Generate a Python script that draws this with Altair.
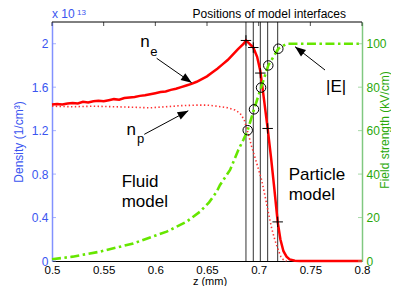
import altair as alt
import pandas as pd

# ---------------- data ----------------
z_ne = [0.500, 0.505, 0.510, 0.515, 0.520, 0.525, 0.530, 0.535, 0.540, 0.545,
        0.550, 0.555, 0.560, 0.565, 0.570, 0.575, 0.580, 0.585, 0.590, 0.595,
        0.600, 0.605, 0.610, 0.615, 0.620, 0.625, 0.630, 0.635, 0.640, 0.645,
        0.650, 0.655, 0.660, 0.665, 0.670, 0.675, 0.680, 0.6855, 0.6877, 0.6900,
        0.6948, 0.6985, 0.7016, 0.7050, 0.7087, 0.7120, 0.7150, 0.7184, 0.7210,
        0.7240, 0.7270, 0.7300, 0.7350, 0.7400, 0.8000]
ne = [1.440, 1.445, 1.440, 1.450, 1.455, 1.450, 1.465, 1.460, 1.470, 1.475,
      1.470, 1.480, 1.490, 1.485, 1.500, 1.505, 1.510, 1.520, 1.525, 1.535,
      1.545, 1.555, 1.560, 1.575, 1.585, 1.600, 1.615, 1.630, 1.650, 1.675,
      1.700, 1.735, 1.770, 1.810, 1.850, 1.900, 1.950, 2.000, 2.030, 2.010,
      1.965, 1.880, 1.750, 1.500, 1.220, 0.950, 0.680, 0.360, 0.200,
      0.090, 0.040, 0.015, 0.003, 0.000, 0.000]

z_np = [0.500, 0.520, 0.540, 0.560, 0.580, 0.595, 0.610, 0.625, 0.640, 0.650,
        0.660, 0.670, 0.677, 0.682, 0.686, 0.6885, 0.6933, 0.6981, 0.7029,
        0.7061, 0.7093, 0.7126, 0.7158, 0.7190, 0.7215, 0.7240, 0.7270]
np_ = [1.425, 1.420, 1.425, 1.420, 1.415, 1.410, 1.420, 1.430, 1.435, 1.435,
       1.425, 1.410, 1.390, 1.360, 1.300, 1.220, 1.050, 0.900, 0.745,
       0.600, 0.450, 0.300, 0.190, 0.100, 0.040, 0.010, 0.000]

z_E = [0.500, 0.520, 0.5465, 0.5787, 0.611, 0.630, 0.6432, 0.652, 0.6594,
       0.6626, 0.6723, 0.6803, 0.6851, 0.6894, 0.6955, 0.7023, 0.7093, 0.7190,
       0.7270, 0.8000]
E = [0.8, 2.0, 4.3, 8.1, 13.5, 18.0, 22.7, 27.0, 31.9,
     35.0, 41.9, 51.1, 55.7, 60.2, 69.8, 79.8, 90.0, 97.7,
     100.0, 100.0]

z_iface = [0.6877, 0.6948, 0.7016, 0.7087, 0.7184]
ne_iface = [2.03, 1.965, 1.73, 1.22, 0.36]
z_circ = [0.6894, 0.6955, 0.7023, 0.7093, 0.7190]
E_circ = [60.2, 69.8, 79.8, 90.0, 97.7]

z_ticks = [0.5, 0.55, 0.6, 0.65, 0.7, 0.75, 0.8]
dens_ticks = [0, 0.4, 0.8, 1.2, 1.6, 2.0]
field_ticks = [0, 20, 40, 60, 80, 100]

# annotations (in data coordinates: z, density/1e13)
lab_text = ["n", "e", "n", "p"]
lab_z = [0.5900, 0.5985, 0.5767, 0.5858]
lab_d = [1.973, 1.887, 1.160, 1.088]
lab_size = [17, 13, 17, 13]

txt_text = ["|E|", "Fluid", "model", "Particle", "model"]
txt_z = [0.7652, 0.5674, 0.5674, 0.7290, 0.7290]
txt_d = [1.558, 0.684, 0.500, 0.746, 0.561]

arr_z1 = [0.6013, 0.5893, 0.7642]
arr_d1 = [1.866, 1.166, 1.758]
arr_z2 = [0.6352, 0.6319, 0.7352]
arr_d2 = [1.641, 1.383, 1.973]
arr_angle = [125, 62, 308]

# ---------------- styling ----------------
FONT = "Liberation Sans"
W, H = 310, 239
BLUE_TXT = "#3a55f0"
BLUE_AX = "#8291ff"
GREEN_TXT = "#2aa80a"
GREEN_AX = "#80c880"
RED = "#ff0000"
LIME = "#66e600"

xs = alt.Scale(domain=[0.5, 0.8], nice=False, zero=False)
ds = alt.Scale(domain=[0, 2.2], nice=False, zero=False)
fs = alt.Scale(domain=[0, 110], nice=False, zero=False)

df_ne = pd.DataFrame({"z": z_ne, "d": ne})
df_np = pd.DataFrame({"z": z_np, "d": np_})
df_E = pd.DataFrame({"z": z_E, "E": E})
df_if = pd.DataFrame({"z": z_iface, "d": ne_iface})
df_c = pd.DataFrame({"z": z_circ, "E": E_circ})
df_lab = pd.DataFrame({"t": lab_text, "z": lab_z, "d": lab_d, "s": lab_size})
df_txt = pd.DataFrame({"t": txt_text, "z": txt_z, "d": txt_d})
df_arr = pd.DataFrame({"z": arr_z1, "d": arr_d1, "z2": arr_z2, "d2": arr_d2,
                       "ang": arr_angle})

def X(field="z"):
    return alt.X(f"{field}:Q", scale=xs, axis=None)

def Yd(field="d"):
    return alt.Y(f"{field}:Q", scale=ds, axis=None)

def Yf(field="E"):
    return alt.Y(f"{field}:Q", scale=fs, axis=None)

# interface positions (this layer carries the bottom x axis)
rules = alt.Chart(pd.DataFrame({"z": z_iface})).mark_rule(
    color="#333333", strokeWidth=1).encode(
    x=alt.X("z:Q", scale=xs,
            axis=alt.Axis(values=z_ticks, format="~g", title=None,
                          orient="bottom",
                          grid=False, ticks=False, domainColor="#000000",
                          domainWidth=1, labelColor="#000000",
                          labelFontSize=11.5, labelFont=FONT, labelPadding=3,
                          labelFlush=False)))

# n_e (carries the left y axis)
ne_line = alt.Chart(df_ne).mark_line(color=RED, strokeWidth=2.5).encode(
    x=X(),
    y=alt.Y("d:Q", scale=ds,
            axis=alt.Axis(orient="left", values=dens_ticks, format="~g",
                          title="Density (1/cm³)", grid=False, ticks=False,
                          domainColor=BLUE_AX, domainWidth=1.5,
                          labelColor=BLUE_TXT, labelFontSize=12,
                          labelFont=FONT, labelPadding=4,
                          titleFont=FONT, titleFontSize=12,
                          titleFontWeight="normal", titleColor=BLUE_TXT,
                          titlePadding=6)),
)

np_line = alt.Chart(df_np).mark_line(
    color="#ff3030", strokeWidth=1.6, strokeDash=[1.4, 2.4]).encode(x=X(), y=Yd())

plus = alt.Chart(df_if).mark_point(
    shape="M-1,0L1,0M0,-1L0,1", filled=False, color="#000000",
    strokeWidth=1, size=110, opacity=1).encode(x=X(), y=Yd())

E_line = alt.Chart(df_E).mark_line(
    color=LIME, strokeWidth=2.6, strokeDash=[9, 3.5, 2.5, 3.5]).encode(
    x=X(),
    y=alt.Y("E:Q", scale=fs,
            axis=alt.Axis(orient="right", values=field_ticks, format="d",
                          title=None, grid=False,
                          ticks=False, domainColor=GREEN_AX, domainWidth=1.5,
                          labelColor=GREEN_TXT, labelFontSize=12,
                          labelFont=FONT, labelPadding=4)),
)

circles = alt.Chart(df_c).mark_point(
    shape="circle", filled=False, color="#000000", strokeWidth=1,
    size=90, opacity=1).encode(x=X(), y=Yf())

# inward ticks and top frame
left_ticks = alt.Chart(pd.DataFrame({"d": dens_ticks})).mark_tick(
    orient="horizontal", color=BLUE_AX, size=4, thickness=1).encode(
    x=alt.value(2), y=Yd())
right_ticks = alt.Chart(pd.DataFrame({"E": field_ticks})).mark_tick(
    orient="horizontal", color=GREEN_AX, size=4, thickness=1).encode(
    x=alt.value(W - 2), y=Yf())
top_ticks = alt.Chart(pd.DataFrame({"z": z_ticks})).mark_tick(
    orient="vertical", color="#000000", size=4, thickness=1).encode(
    x=X(), y=alt.value(2))
top_frame = alt.Chart(pd.DataFrame({"z": [0.5], "z2": [0.8], "d": [2.2]})).mark_rule(
    color="#000000", strokeWidth=1).encode(
    x=X(), x2="z2:Q", y=Yd())

# annotations
labels = alt.Chart(df_lab).mark_text(
    font=FONT, color="#000000", baseline="alphabetic", align="center").encode(
    x=X(), y=Yd(), text="t:N",
    size=alt.Size("s:Q", scale=None, legend=None))
texts = alt.Chart(df_txt).mark_text(
    font=FONT, color="#000000", baseline="alphabetic", align="left",
    fontSize=17).encode(x=X(), y=Yd(), text="t:N")

arrows = alt.Chart(df_arr).mark_rule(color="#000000", strokeWidth=1).encode(
    x=X(), y=Yd(), x2="z2:Q", y2="d2:Q")
heads = alt.Chart(df_arr).mark_point(
    shape="M0,0L-0.38,1L0.38,1Z", filled=True, color="#000000",
    size=460, opacity=1, strokeWidth=0).encode(
    x=X("z2"), y=Yd("d2"), angle=alt.Angle("ang:Q", scale=None))

title = alt.Chart(pd.DataFrame({"t": ["Positions of model interfaces"]})).mark_text(
    font=FONT, fontSize=12, color="#000000", align="right",
    baseline="alphabetic").encode(text="t:N", x=alt.value(294), y=alt.value(-4.5))
expo = alt.Chart(pd.DataFrame({"t": ["x 10"]})).mark_text(
    font=FONT, fontSize=12, color=BLUE_TXT, align="left",
    baseline="alphabetic").encode(text="t:N", x=alt.value(0), y=alt.value(-4.5))
expo2 = alt.Chart(pd.DataFrame({"t": ["13"]})).mark_text(
    font=FONT, fontSize=8, color=BLUE_TXT, align="left",
    baseline="alphabetic").encode(text="t:N", x=alt.value(25), y=alt.value(-7.5))
rtitle = alt.Chart(pd.DataFrame({"t": ["Field strength (kV/cm)"]})).mark_text(
    font=FONT, fontSize=12, color=GREEN_TXT, align="center",
    baseline="alphabetic", angle=270).encode(
    text="t:N", x=alt.value(W + 27), y=alt.value(108))
xtitle = alt.Chart(pd.DataFrame({"t": ["z (mm)"]})).mark_text(
    font=FONT, fontSize=11, color="#000000", align="center",
    baseline="alphabetic").encode(
    text="t:N", x=alt.value(158), y=alt.value(H + 23.5))

chart = alt.layer(
    rules, np_line, ne_line, plus, E_line, circles,
    left_ticks, right_ticks, top_ticks, top_frame,
    arrows, heads, labels, texts, title, expo, expo2, rtitle, xtitle,
).resolve_scale(y="independent").resolve_axis(x="independent").properties(
    width=W, height=H,
    background="#ffffff",
    autosize=alt.AutoSizeParams(type="none"),
    padding={"left": 44, "top": 14, "right": 29, "bottom": 25},
).configure_view(stroke=None)

chart.save("out.html", embed_options={"renderer": "svg", "actions": False})
